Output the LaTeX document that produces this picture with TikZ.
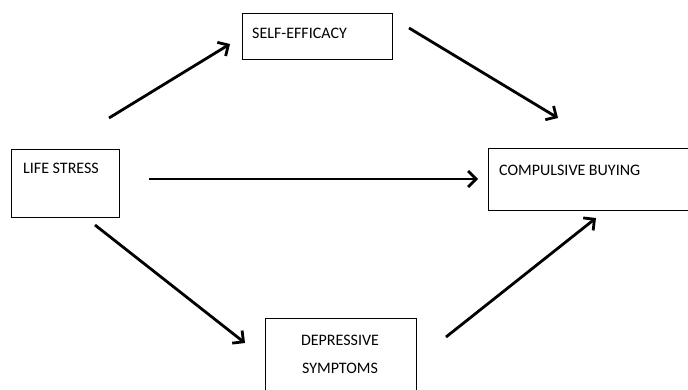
\documentclass[tikz,border=0pt]{standalone}
\usepackage{fontspec}
\setmainfont{Carlito}
\usetikzlibrary{arrows.meta}
\begin{document}
\begin{tikzpicture}[x=1pt,y=-1pt,>={Straight Barb[length=8pt,width=16pt]},
    box/.style={draw,line width=1.4pt,inner sep=0pt,anchor=north west},
    lbl/.style={font=\fontsize{16}{28}\selectfont,inner sep=0pt},
    link/.style={->,line width=2.8pt}]
    \useasboundingbox (0,0) rectangle (688,389);
    % boxes
    \node[box,minimum width=150pt,minimum height=46pt] (se) at (242,13) {};
    \node[box,minimum width=108pt,minimum height=68pt] (ls) at (11,149) {};
    \node[box,minimum width=220pt,minimum height=62pt] (cb) at (488,148) {};
    \node[box,minimum width=151pt,minimum height=90pt] (ds) at (265,318) {};
    % labels
    \node[lbl,anchor=base west] (se-txt) at (252,38) {SELF-EFFICACY};
    \node[lbl,anchor=base west] (ls-txt) at (23,173) {LIFE STRESS};
    \node[lbl,anchor=base west] (cb-txt) at (499,175) {COMPULSIVE BUYING};
    \node[lbl,align=center] (ds-txt) at (340,354) {DEPRESSIVE\\SYMPTOMS};
    % arrow ends
    \coordinate (ls-se-a) at (109,118);
    \coordinate (ls-se-b) at (230,44);
    \coordinate (se-cb-a) at (409,28);
    \coordinate (se-cb-b) at (558,118);
    \coordinate (ls-cb-a) at (149,179);
    \coordinate (ls-cb-b) at (478,179);
    \coordinate (ls-ds-a) at (95,225);
    \coordinate (ls-ds-b) at (245,343);
    \coordinate (ds-cb-a) at (446,337);
    \coordinate (ds-cb-b) at (596,218);
    \draw[link] (ls-se-a) -- (ls-se-b);
    \draw[link] (se-cb-a) -- (se-cb-b);
    \draw[link] (ls-cb-a) -- (ls-cb-b);
    \draw[link] (ls-ds-a) -- (ls-ds-b);
    \draw[link] (ds-cb-a) -- (ds-cb-b);
\end{tikzpicture}
\end{document}
